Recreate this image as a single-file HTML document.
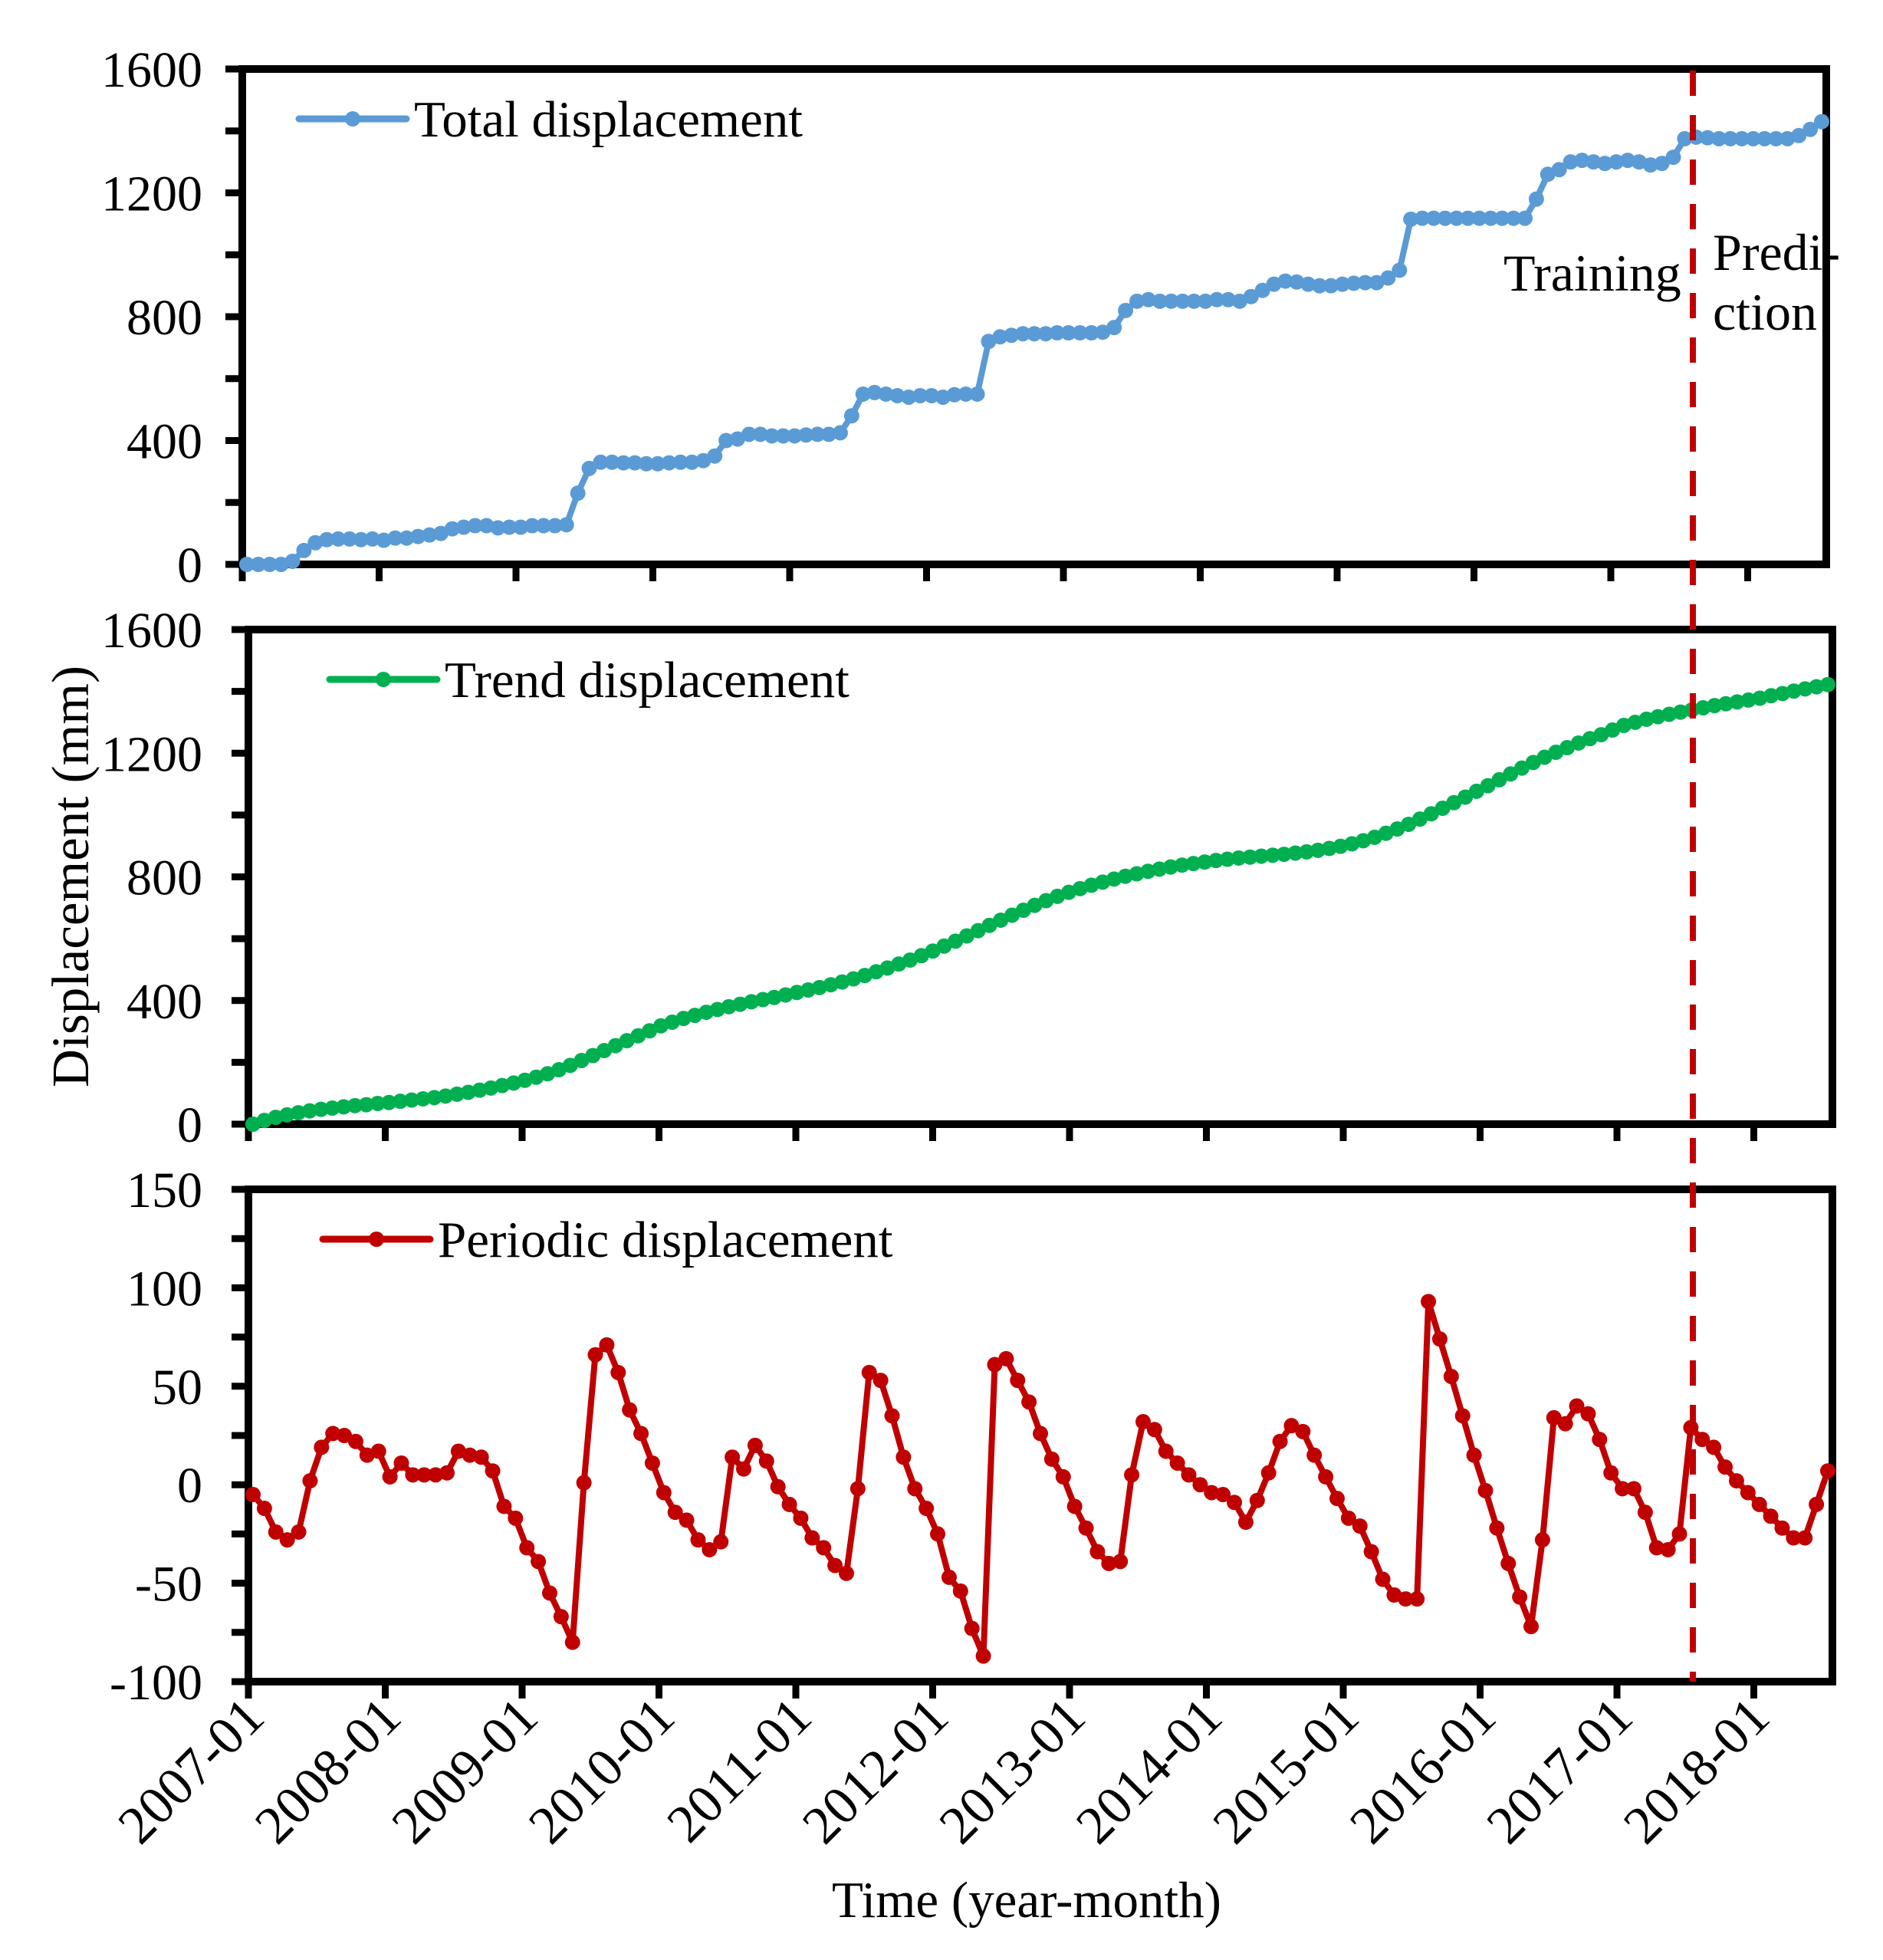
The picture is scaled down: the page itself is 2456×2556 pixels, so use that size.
<!DOCTYPE html>
<html><head><meta charset="utf-8"><style>
html,body{margin:0;padding:0;background:#fff;}
svg{display:block;font-family:"Liberation Serif",serif;}
</style></head><body>
<svg id="chart" width="2456" height="2556" viewBox="0 0 2456 2556" xmlns="http://www.w3.org/2000/svg">
<rect width="2456" height="2556" fill="#fff"/>
<text x="0" y="0" transform="translate(115,1143) rotate(-90)" text-anchor="middle" font-size="69">Displacement (mm)</text>
<text x="1339" y="2500" text-anchor="middle" font-size="67">Time (year-month)</text>
<text x="1961" y="379" font-size="68">Training</text>
<text x="2234" y="352" font-size="68">Predi-</text>
<text x="2234" y="430" font-size="68">ction</text>
</svg>
<script>
const yearLabels=["2007-01","2008-01","2009-01","2010-01","2011-01","2012-01","2013-01","2014-01","2015-01","2016-01","2017-01","2018-01"];
const totalValues=[0,0,0,0,10,45,70,80,82,82,80,82,78,85,85,90,95,100,115,120,125,125,118,120,120,125,125,125,128,230,310,330,330,328,328,325,325,328,330,330,335,350,400,405,420,420,415,415,415,418,420,420,425,480,550,555,550,545,540,545,545,540,548,550,550,720,735,740,745,745,745,748,748,748,748,750,765,820,850,855,850,850,850,850,850,855,855,850,865,885,905,915,912,905,900,900,905,908,910,910,925,950,1115,1118,1118,1118,1118,1118,1118,1118,1118,1118,1118,1180,1260,1275,1300,1305,1300,1295,1300,1305,1300,1290,1295,1315,1375,1380,1378,1375,1375,1375,1375,1375,1375,1375,1385,1405,1430];
const trendValues=[0,12,22,30,37,43,48,52,56,60,63,67,70,74,78,82,86,91,97,103,110,117,125,133,142,152,163,176,190,206,222,238,254,270,286,302,318,330,342,352,362,371,380,388,396,403,410,418,426,434,442,451,460,470,481,493,505,518,531,545,560,576,592,609,626,643,660,676,692,708,723,737,750,762,773,783,793,802,810,818,825,832,838,843,848,853,857,861,864,867,870,873,877,881,886,892,899,907,917,928,941,955,970,987,1004,1022,1040,1058,1077,1095,1114,1133,1152,1170,1187,1203,1218,1233,1247,1260,1275,1290,1300,1310,1318,1326,1333,1340,1347,1354,1360,1366,1372,1378,1386,1393,1401,1408,1415,1422];
const periodicValues=[-5,-12,-24,-28,-24,2,19,26,25,22,15,17,4,11,5,5,5,6,17,15,14,7,-11,-17,-32,-39,-55,-67,-80,1,66,71,57,38,26,11,-4,-14,-18,-28,-33,-29,14,8,20,12,-1,-10,-17,-27,-32,-41,-45,-2,57,53,35,14,-2,-12,-25,-47,-54,-73,-87,61,64,53,42,26,13,4,-11,-22,-34,-40,-39,5,32,28,17,11,5,0,-4,-5,-9,-19,-8,6,22,30,27,15,4,-7,-17,-21,-34,-48,-56,-58,-58,93,74,55,35,15,-3,-22,-40,-57,-72,-28,34,31,40,36,23,6,-2,-2,-14,-32,-33,-25,29,23,19,9,2,-4,-10,-16,-22,-27,-27,-10,7];
const splitX=2208;

const NS="http://www.w3.org/2000/svg";
const svg=document.getElementById('chart');
function mk(tag,attrs,parent){const e=document.createElementNS(NS,tag);for(const k in attrs)e.setAttribute(k,attrs[k]);(parent||svg).appendChild(e);return e;}

const panels=[
 {name:'total',L:316,R:2382,T:90,B:736,min:0,max:1600,major:400,minor:200,vals:totalValues,color:'#5B9BD5',legend:'Total displacement',lx:390,ly:155},
 {name:'trend',L:324,R:2390,T:821,B:1466,min:0,max:1600,major:400,minor:200,vals:trendValues,color:'#00B050',legend:'Trend displacement',lx:430,ly:886},
 {name:'periodic',L:324,R:2390,T:1551,B:2193,min:-100,max:150,major:50,minor:25,vals:periodicValues,color:'#C00000',legend:'Periodic displacement',lx:421,ly:1616}
];
panels.forEach((p,pi)=>{
  const g=mk('g',{});
  
  
  const n=p.vals.length-1;
  const xs=m=>p.L+6+m*(p.R-p.L-12)/n;
  const ys=v=>p.B-(v-p.min)/(p.max-p.min)*(p.B-p.T);
  const yearX=i=>p.L+i*178.5;
  const fr=mk('rect',{x:p.L,y:p.T,width:p.R-p.L,height:p.B-p.T,fill:'none',stroke:'#000','stroke-width':10},g);
  
  
  for(let v=p.min;v<=p.max+0.001;v+=p.minor){
    const y=ys(v);const isMaj=Math.abs((v-p.min)%p.major)<0.001;
    mk('line',{x1:p.L-22,x2:p.L,y1:y,y2:y,stroke:'#000','stroke-width':9},g);
    if(isMaj){const t=mk('text',{x:264,y:y+23,'text-anchor':'end','font-size':66},g);t.textContent=v;
      
      }
  }
  yearLabels.forEach((lab,i)=>{
    const x=yearX(i);
    mk('line',{x1:x,x2:x,y1:p.B,y2:p.B+22,stroke:'#000','stroke-width':9},g);
    if(pi===2){const t=mk('text',{x:0,y:0,'text-anchor':'end','font-size':70,transform:`translate(${x+24},${p.B+50}) rotate(-45)`},g);t.textContent=lab;
      
      }
  });
  const pts=p.vals.map((v,m)=>xs(m).toFixed(1)+','+ys(v).toFixed(1)).join(' ');
  const line=mk('polyline',{points:pts,fill:'none',stroke:p.color,'stroke-width':8,'stroke-linejoin':'round'},g);
  
  
  p.vals.forEach((v,m)=>{const c=mk('circle',{cx:xs(m),cy:ys(v),r:10,fill:p.color},g);
    
    });
  const lg=mk('g',{},g);
  
  
  mk('line',{x1:p.lx,x2:p.lx+140,y1:p.ly,y2:p.ly,stroke:p.color,'stroke-width':9,'stroke-linecap':'round'},lg);
  mk('circle',{cx:p.lx+70,cy:p.ly,r:10,fill:p.color},lg);
  const lt=mk('text',{x:p.lx+150,y:p.ly+23,'font-size':67},lg);lt.textContent=p.legend;
});
const dl=mk('line',{x1:splitX,x2:splitX,y1:92,y2:2193,stroke:'#C00000','stroke-width':8,'stroke-dasharray':'33 25'});


</script>
</body></html>
